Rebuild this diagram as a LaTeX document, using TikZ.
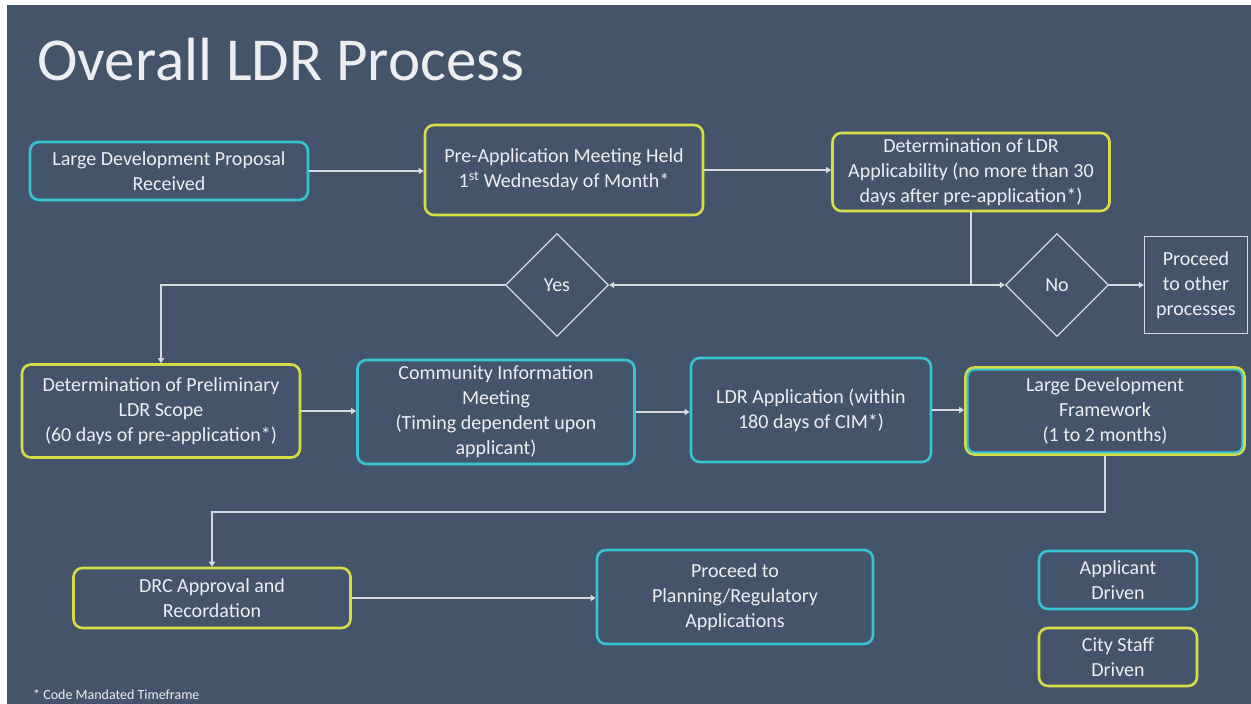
\documentclass[tikz,border=0pt]{standalone}
\usepackage{fontspec}
\setmainfont{Carlito}
\usetikzlibrary{arrows.meta,shapes.geometric}
\definecolor{ldrbg}{HTML}{44546A}
\definecolor{ldrcyan}{HTML}{38C4D0}
\definecolor{ldryellow}{HTML}{D5DD45}
\definecolor{ldrline}{HTML}{D6DAE0}
\definecolor{ldrtext}{HTML}{ECEEF1}
\begin{document}
\begin{tikzpicture}[x=1pt, y=-1pt, >={Triangle[length=5pt,width=6pt]},
    box/.style={draw, line width=2.6pt, rounded corners=9pt, align=center,
      text=ldrtext, inner sep=0pt, font=\fontsize{20}{25}\selectfont},
    applicant/.style={box, draw=ldrcyan},
    staff/.style={box, draw=ldryellow},
    decision/.style={diamond, draw=ldrline, line width=1.3pt, aspect=1,
      minimum size=103pt, inner sep=0pt, text=ldrtext,
      font=\fontsize{20}{25}\selectfont},
    flow/.style={->, draw=ldrline, line width=1.4pt}]
  \useasboundingbox (0,0) rectangle (1251,704);
  \fill[white] (0,0) rectangle (1251,704);
  \fill[ldrbg] (7,5) rectangle (1251,704);
  \node[anchor=base west, text=ldrtext, font=\fontsize{61}{70}\selectfont]
    (title) at (34,80) {Overall LDR Process};

  \node[applicant, minimum width=278pt, minimum height=58pt] (proposal) at (169,171)
    {Large Development Proposal\\Received};
  \node[staff, minimum width=278pt, minimum height=90pt] (preapp) at (564,170)
    {Pre-Application Meeting Held\\1\textsuperscript{st} Wednesday of Month*};
  \node[staff, minimum width=277pt, minimum height=78pt] (applic) at (971,172)
    {Determination of LDR\\Applicability (no more than 30\\days after pre-application*)};
  \node[decision] (yes) at (557,285) {Yes};
  \node[decision] (no) at (1057,285) {No};
  \node[draw=ldrline, line width=1.3pt, minimum width=103pt, minimum height=97pt,
    inner sep=0pt, align=center, text=ldrtext, font=\fontsize{20}{25}\selectfont]
    (other) at (1196,285) {Proceed\\to other\\processes};

  \node[staff, minimum width=278pt, minimum height=93pt] (scope) at (161,411)
    {Determination of Preliminary\\LDR Scope\\(60 days of pre-application*)};
  \node[applicant, minimum width=277pt, minimum height=104pt] (cim) at (496,412)
    {Community Information\\Meeting\\(Timing dependent upon\\applicant)};
  \node[applicant, minimum width=240pt, minimum height=104pt] (ldrapp) at (811,410)
    {LDR Application (within\\180 days of CIM*)};
  \node[staff, minimum width=279pt, minimum height=87pt] (ldf) at (1105,411)
    {Large Development\\Framework\\(1 to 2 months)};
  \draw[ldrcyan, line width=2pt, rounded corners=7pt]
    ([shift={(3.5,-3.5)}]ldf.south west) rectangle ([shift={(-3.5,3.5)}]ldf.north east);

  \node[staff, minimum width=277pt, minimum height=60pt] (drc) at (212,598)
    {DRC Approval and\\Recordation};
  \node[applicant, minimum width=276pt, minimum height=94pt] (planning) at (735,597)
    {Proceed to\\Planning/Regulatory\\Applications};
  \node[applicant, minimum width=158pt, minimum height=58pt] (keycyan) at (1118,580)
    {Applicant\\Driven};
  \node[staff, minimum width=158pt, minimum height=58pt] (keyyellow) at (1118,657)
    {City Staff\\Driven};
  \node[anchor=base west, inner sep=0pt, text=ldrtext, font=\fontsize{14}{16}\selectfont]
    (note) at (33,699) {* Code Mandated Timeframe};

  \draw[flow] (proposal.east) -- (proposal.east -| preapp.west);
  \draw[flow] (preapp.east) -- (preapp.east -| applic.west);
  \coordinate (split) at (applic.south |- yes.east);
  \draw[ldrline, line width=1.4pt] (applic.south) -- (split);
  \draw[flow] (split) -- (yes.east);
  \draw[flow] (split) -- (no.west);
  \draw[flow] (no.east) -- (no.east -| other.west);
  \draw[flow] (yes.west) -| (scope.north);
  \draw[flow] (scope.east) -- (scope.east -| cim.west);
  \draw[flow] (cim.east) -- (cim.east -| ldrapp.west);
  \draw[flow] (ldrapp.east) -- (ldrapp.east -| ldf.west);
  \draw[flow] (ldf.south) -- ++(0,56) -| (drc.north);
  \draw[flow] (drc.east) -- (drc.east -| planning.west);
\end{tikzpicture}
\end{document}
